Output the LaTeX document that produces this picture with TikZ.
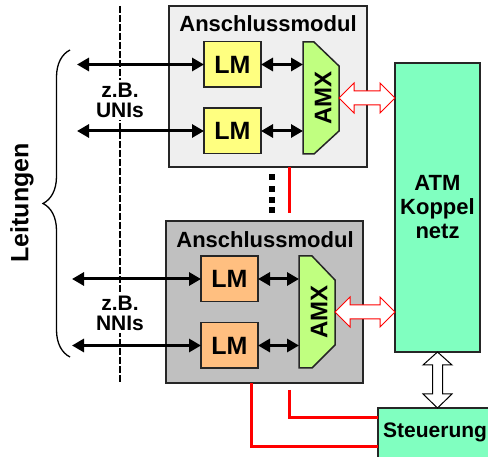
\documentclass[tikz,border=0pt]{standalone}
\usepackage{fontspec}
\setmainfont{Liberation Sans}
\usetikzlibrary{arrows.meta,calc,decorations.pathreplacing}
\definecolor{modlight}{HTML}{EFEFEF}
\definecolor{moddark}{HTML}{C0C0C0}
\definecolor{lmyellow}{HTML}{FFFF80}
\definecolor{lmorange}{HTML}{FFBF80}
\definecolor{amxgreen}{HTML}{C0FF80}
\definecolor{atmgreen}{HTML}{80FFC0}
\begin{document}
\begin{tikzpicture}[x=1pt,y=-1pt,
  box/.style={draw=black!85, line width=1.5pt, inner sep=0pt, outer sep=0pt},
  module/.style={box, minimum width=198pt, minimum height=161pt},
  lmbox/.style={box, minimum width=57pt, minimum height=45.5pt, font=\fontsize{25}{25}\selectfont\bfseries},
  amxbox/.style={inner sep=0pt, outer sep=0pt, minimum width=36pt, minimum height=112pt},
  amxshape/.style={draw=black!85, line width=1.5pt, fill=amxgreen, line join=miter},
  amxtext/.style={rotate=90, font=\fontsize{24}{24}\selectfont\bfseries},
  titletext/.style={font=\fontsize{22}{24}\selectfont\bfseries},
  labeltext/.style={fill=white, inner sep=3pt, align=center, font=\fontsize{21}{20}\selectfont\bfseries},
  blackarrow/.style={line width=3pt, {Triangle[length=12pt,width=13pt]}-{Triangle[length=12pt,width=13pt]}},
  redline/.style={draw=red, line width=3pt},
  redhollow/.style={draw=red, line width=1pt, fill=white, line join=miter},
  blackhollow/.style={draw=black, line width=1pt, fill=white, line join=miter},
  dashline/.style={line width=2pt, dash pattern=on 7pt off 2pt}
]
\clip (0,0) rectangle (488,457);
\fill[white] (0,0) rectangle (488,457);

% dashed separator
\coordinate (d1) at (120,6);
\coordinate (d2) at (120,383);
\draw[dashline] (d1) -- (d2);

% modules
\node[module, fill=modlight] (m1) at (268,86.5) {};
\node[module, fill=moddark, minimum width=197pt, minimum height=162pt] (m2) at (264.5,302) {};
\node[titletext] (t1) at (268,24) {Anschlussmodul};
\node[titletext] (t2) at (265,240) {Anschlussmodul};

% LM boxes
\node[lmbox, fill=lmyellow] (lm1a) at (232.5,64.5) {LM};
\node[lmbox, fill=lmyellow] (lm1b) at (232.5,131) {LM};
\node[lmbox, fill=lmorange] (lm2a) at (229.5,279) {LM};
\node[lmbox, fill=lmorange] (lm2b) at (229.5,345.5) {LM};

% AMX
\node[amxbox] (amx1) at (321,98) {};
\draw[amxshape] (amx1.north west) -- ($(amx1.north west)+(11,0)$) -- ($(amx1.north east)+(0,24)$)
  -- ($(amx1.south east)+(0,-23)$) -- ($(amx1.south west)+(11,0)$) -- (amx1.south west) -- cycle;
\node[amxtext] (amx1t) at ($(amx1.center)+(2,0)$) {AMX};
\node[amxbox] (amx2) at (317,312) {};
\draw[amxshape] (amx2.north west) -- ($(amx2.north west)+(13,0)$) -- ($(amx2.north east)+(0,24)$)
  -- ($(amx2.south east)+(0,-23)$) -- ($(amx2.south west)+(13,0)$) -- (amx2.south west) -- cycle;
\node[amxtext] (amx2t) at ($(amx2.center)+(2,0)$) {AMX};

% ATM switch and control
\node[box, fill=atmgreen, minimum width=85pt, minimum height=289pt] (atm) at (437.5,207.5) {};
\node[align=center, font=\fontsize{22}{24}\selectfont\bfseries] (atmt) at (437.5,207) {ATM\\Koppel\\netz};
\node[box, fill=atmgreen, minimum width=130pt, minimum height=60pt, anchor=north west] (steuer) at (378,408) {};
\node[font=\fontsize{21}{24}\selectfont\bfseries, anchor=west, inner sep=0pt] (steuert) at (383,432) {Steuerung};

% line arrows left
\coordinate (l1a) at (77,64.5);
\coordinate (l1b) at (77,131);
\coordinate (l2a) at (72,279);
\coordinate (l2b) at (72,345.5);
\draw[blackarrow] (l1a) -- (lm1a.west);
\draw[blackarrow] (l1b) -- (lm1b.west);
\draw[blackarrow] (l2a) -- (lm2a.west);
\draw[blackarrow] (l2b) -- (lm2b.west);

% LM <-> AMX
\draw[blackarrow] (lm1a.east) -- (lm1a.east -| amx1.west);
\draw[blackarrow] (lm1b.east) -- (lm1b.east -| amx1.west);
\draw[blackarrow] (lm2a.east) -- (lm2a.east -| amx2.west);
\draw[blackarrow] (lm2b.east) -- (lm2b.east -| amx2.west);

% hollow red arrows AMX <-> ATM
\draw[redhollow] let \p1=(amx1.east), \p2=(amx1.east -| atm.west) in
  (\x1,\y1) -- (\x1+15pt,\y1+15pt) -- (\x1+15pt,\y1+7pt) -- (\x2-15pt,\y1+7pt) -- (\x2-15pt,\y1+15pt)
  -- (\x2,\y1) -- (\x2-15pt,\y1-15pt) -- (\x2-15pt,\y1-7pt) -- (\x1+15pt,\y1-7pt) -- (\x1+15pt,\y1-15pt) -- cycle;
\draw[redhollow] let \p1=(amx2.east), \p2=(amx2.east -| atm.west) in
  (\x1,\y1) -- (\x1+15pt,\y1+15pt) -- (\x1+15pt,\y1+7pt) -- (\x2-15pt,\y1+7pt) -- (\x2-15pt,\y1+15pt)
  -- (\x2,\y1) -- (\x2-15pt,\y1-15pt) -- (\x2-15pt,\y1-7pt) -- (\x1+15pt,\y1-7pt) -- (\x1+15pt,\y1-15pt) -- cycle;

% hollow black arrow ATM <-> Steuerung
\draw[blackhollow] let \p1=(atm.south), \p2=(atm.south |- steuer.north) in
  (\x1,\y1) -- (\x1+14.5pt,\y1-13pt) -- (\x1+5pt,\y1-13pt) -- (\x1+5pt,\y2+14pt) -- (\x1+14.5pt,\y2+14pt)
  -- (\x2,\y2) -- (\x1-14.5pt,\y2+14pt) -- (\x1-5pt,\y2+14pt) -- (\x1-5pt,\y1-13pt) -- (\x1-14.5pt,\y1-13pt) -- cycle;

% red control lines
\coordinate (r1) at (289,213);
\draw[redline] (m1.south -| r1) -- (r1);
\coordinate (r2) at (289,390);
\draw[redline] (r2) |- ($(steuer.north west)+(0,10)$);
\coordinate (r3) at (251,383);
\draw[redline] (m2.south -| r3) |- ($(steuer.north west)+(0,39)$);

% dots
\foreach \yy in {177,189,200,210} { \fill (269,\yy-3) rectangle (275,\yy+3); }

% labels
\node[labeltext] (uni) at (120,100) {z.B.\\UNIs};
\node[labeltext] (nni) at (120,313) {z.B.\\NNIs};

% brace
\coordinate (b1) at (70,357);
\coordinate (b2) at (70,50);
\draw[line width=1.3pt, decorate, decoration={brace, amplitude=27pt, aspect=0.5}] (b1) -- (b2);
\node[rotate=90, font=\fontsize{25}{25}\selectfont\bfseries] (leit) at (22,203) {Leitungen};
\end{tikzpicture}
\end{document}
